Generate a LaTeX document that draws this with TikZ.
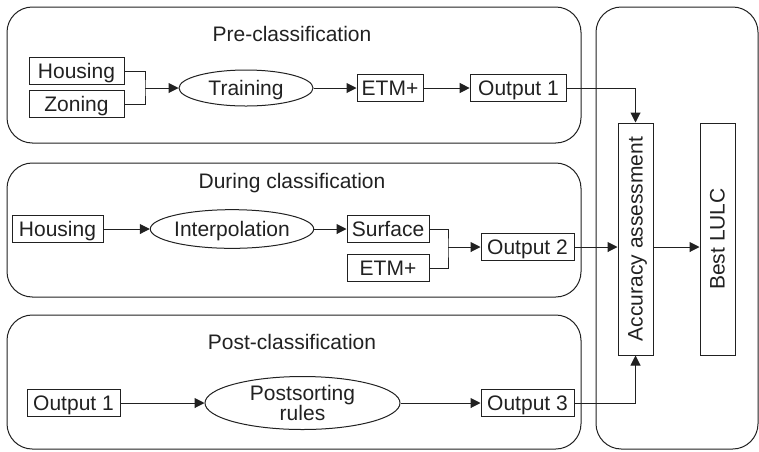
\documentclass[tikz,border=0pt]{standalone}
\usepackage{fontspec}
\setmainfont{Liberation Sans}
\usepackage{graphicx}
\usepackage{tikz}
\usetikzlibrary{shapes.geometric}
\usetikzlibrary{arrows.meta}
\definecolor{MyInk}{rgb}{0.13,0.13,0.13}

\begin{document}
\begin{tikzpicture}[x=0.75pt, y=-0.75pt]
       \tikzstyle{every node}=[font=\fontsize{15.75}{15}\selectfont, text=MyInk]
       \tikzstyle{databox}=[draw=MyInk, line width=0.75pt, inner sep=0pt, minimum height=20.5pt, text height=11.3pt, text depth=0pt]
       \tikzstyle{tallbox}=[draw=MyInk, line width=0.75pt, inner sep=0pt, minimum width=26.25pt, minimum height=174pt]
       \tikzstyle{process}=[ellipse, draw=MyInk, line width=0.75pt, inner sep=0pt, align=center]
       \tikzstyle{flow}=[-{Triangle[length=7.5pt, width=7.5pt]}, draw=MyInk, line width=0.75pt]
       \tikzstyle{link}=[draw=MyInk, line width=0.75pt]
       \tikzstyle{stage}=[draw=MyInk, line width=0.75pt, rounded corners=19pt]
       \useasboundingbox (0,0) rectangle (759,451);

        % the four frames
        \draw[stage] (7,7) rectangle (581,143);
        \draw[stage] (7,163) rectangle (581,297);
        \draw[stage] (7,315) rectangle (581,449);
        \draw[stage] (596,7) rectangle (758,449);
        \node[anchor=base] (pretitle) at (292,41.5) {Pre-classification};
        \node[anchor=base] (durtitle) at (292,188) {During classification};
        \node[anchor=base] (posttitle) at (292,349) {Post-classification};

        % pre-classification
        \node[databox, minimum width=71.25pt] (house1) at (76.5,71) {Housing};
        \node[databox, minimum width=71.25pt] (zone) at (76.5,104) {Zoning};
        \coordinate (join1) at (145,88);
        \node[process, text height=11.3pt, text depth=0pt, minimum width=100.5pt, minimum height=27pt] (train) at (246,88) {Training};
        \node[databox, minimum width=49.5pt] (etm1) at (390,88) {ETM+};
        \node[databox, minimum width=72.5pt] (out1) at (518.5,88) {Output 1};

        % during classification
        \node[databox, minimum width=68.25pt] (house2) at (57.5,229) {Housing};
        \node[process, text height=11.3pt, text depth=0pt, minimum width=121.5pt, minimum height=29pt] (interp) at (232,229) {Interpolation};
        \node[databox, minimum width=61.5pt] (surf) at (388,229) {Surface};
        \node[databox, minimum width=61.5pt] (etm2) at (388,268) {ETM+};
        \coordinate (join2) at (448,247);
        \node[databox, minimum width=69.75pt] (out2) at (527.5,247) {Output 2};

        % post-classification
        \node[databox, minimum width=69.75pt] (out1b) at (73.5,403) {Output 1};
        \node[process, minimum width=146.25pt, minimum height=39.75pt] (post) at (302.5,403) {Postsorting\\rules};
        \node[databox, minimum width=69.75pt] (out3) at (527.5,403) {Output 3};

        % assessment
        \node[tallbox] (acc) at (635.5,239) {\rotatebox{90}{\raisebox{0pt}[\height][0pt]{Accuracy assessment}}};
        \node[tallbox] (best) at (717.5,239) {\rotatebox{90}{Best LULC}};

        \draw[link] (house1.east) -| (join1) |- (zone.east);
        \draw[flow] (join1) -- (train.west);
        \draw[flow] (train.east) -- (etm1.west);
        \draw[flow] (etm1.east) -- (out1.west);
        \draw[flow] (out1.east) -| (acc.north);
        \draw[flow] (house2.east) -- (interp.west);
        \draw[flow] (interp.east) -- (surf.west);
        \draw[link] (surf.east) -| (join2) |- (etm2.east);
        \draw[flow] (join2) -- (out2.west);
        \draw[flow] (out2.east) -- (out2.east -| acc.west);
        \draw[flow] (acc.east |- out2.east) -- (best.west |- out2.east);
        \draw[flow] (out1b.east) -- (post.west);
        \draw[flow] (post.east) -- (out3.west);
        \draw[flow] (out3.east) -| (acc.south);
      \end{tikzpicture}
\end{document}
